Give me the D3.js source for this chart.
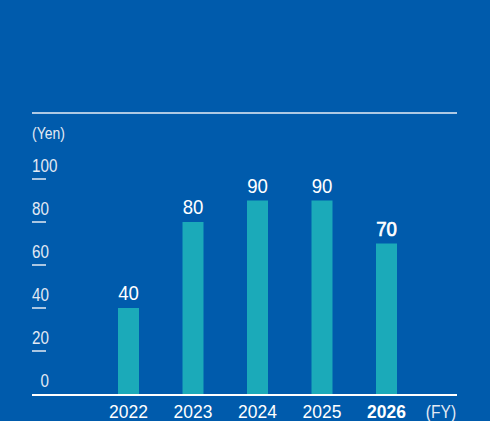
<!DOCTYPE html>
<html>
<head>
<meta charset="utf-8">
<script src="https://cdn.jsdelivr.net/npm/d3@7/dist/d3.min.js"></script>
<style>
  html, body { margin: 0; padding: 0; background: #005BAC; }
  svg { display: block; }
  text { font-family: "Liberation Sans", Arial, sans-serif; }
</style>
</head>
<body>
<svg id="chart" width="490" height="421"></svg>
<script>
const years = ["2022", "2023", "2024", "2025", "2026"];
const values = [40, 80, 90, 90, 70];
const highlightYear = "2026";
const yTicks = [0, 20, 40, 60, 80, 100];
const unitLabel = "(Yen)";
const fyLabel = "(FY)";

const W = 490, H = 421;
const svg = d3.select("#chart");
svg.append("rect").attr("width", W).attr("height", H).attr("fill", "#005BAC");

const left = 32, right = 457;
const y = d3.scaleLinear().domain([0, 100]).range([394, 179]);
const x = d3.scalePoint().domain(years).range([128.5, 386.5]);
const barW = 21;
const soft = "#e3eaf4";

// top rule
svg.append("line").attr("x1", left).attr("x2", right).attr("y1", 113).attr("y2", 113)
  .attr("stroke", "#e8eef7").attr("stroke-width", 1.5);

// unit label (condensed look)
svg.append("text").attr("transform", `translate(${left},139) scale(0.82,1)`).text(unitLabel)
  .attr("fill", soft).attr("font-size", 17);

// y ticks: short lines and labels above them
const yg = svg.append("g");
yg.selectAll("line.tick").data(yTicks.filter(d => d > 0)).join("line")
  .attr("x1", left).attr("x2", left + 14)
  .attr("y1", d => y(d)).attr("y2", d => y(d))
  .attr("stroke", soft).attr("stroke-width", 1.5);
yg.selectAll("text").data(yTicks).join("text")
  .attr("transform", d => `translate(${d === 0 ? 49 : left},${y(d) - 7.5}) scale(0.8,1)`)
  .attr("text-anchor", d => d === 0 ? "end" : "start")
  .attr("fill", soft).attr("font-size", 19)
  .text(d => d);

// bars
svg.selectAll("rect.bar").data(years).join("rect").attr("class", "bar")
  .attr("x", (d) => x(d) - barW / 2)
  .attr("width", barW)
  .attr("y", (d, i) => y(values[i]))
  .attr("height", (d, i) => y(0) - y(values[i]))
  .attr("fill", "#1BAAB9");

// value labels (highlight year slightly heavier)
svg.selectAll("text.val").data(years).join("text").attr("class", "val")
  .attr("transform", (d, i) => `translate(${x(d)},${y(values[i]) - 8}) scale(0.93,1)`)
  .attr("text-anchor", "middle")
  .attr("fill", "#ffffff").attr("font-size", 20)
  .attr("stroke", d => d === highlightYear ? "#ffffff" : "none")
  .attr("stroke-width", 0.7)
  .text((d, i) => values[i]);

// baseline axis
svg.append("line").attr("x1", left).attr("x2", right).attr("y1", 395).attr("y2", 395)
  .attr("stroke", "#ffffff").attr("stroke-width", 2);

// x labels
svg.selectAll("text.xl").data(years).join("text").attr("class", "xl")
  .attr("transform", d => `translate(${x(d)},418) scale(0.92,1)`)
  .attr("text-anchor", "middle")
  .attr("fill", "#ffffff").attr("font-size", 19)
  .attr("font-weight", d => d === highlightYear ? 700 : 400)
  .text(d => d);
svg.append("text").attr("transform", "translate(441,418) scale(0.82,1)").attr("text-anchor", "middle")
  .attr("fill", soft).attr("font-size", 19).text(fyLabel);
</script>
</body>
</html>
